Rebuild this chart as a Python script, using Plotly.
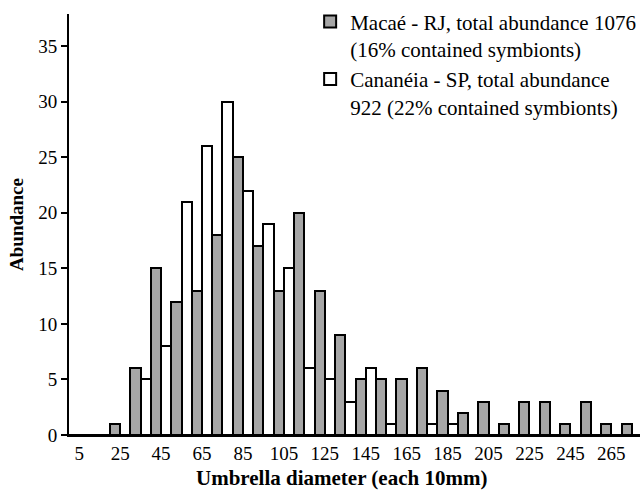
import plotly.graph_objects as go

diameters = [5, 15, 25, 35, 45, 55, 65, 75, 85, 95, 105, 115, 125, 135, 145, 155,
             165, 175, 185, 195, 205, 215, 225, 235, 245, 255, 265, 275]
macae = [0, 0, 1, 6, 15, 12, 13, 18, 25, 17, 13, 20, 13, 9, 5, 5,
         5, 6, 4, 2, 3, 1, 3, 3, 1, 3, 1, 1]
cananeia = [0, 0, 0, 5, 8, 21, 26, 30, 22, 19, 15, 6, 5, 3, 6, 1,
            0, 1, 1, 0, 0, 0, 0, 0, 0, 0, 0, 0]
tick_labels = [5, 25, 45, 65, 85, 105, 125, 145, 165, 185, 205, 225, 245, 265]
y_ticks = [0, 5, 10, 15, 20, 25, 30, 35]

name1 = "Macaé - RJ, total abundance 1076<br>(16% contained symbionts)"
name2 = "Cananéia - SP, total abundance<br>922 (22% contained symbionts)"
x_title = "<b>Umbrella diameter (each 10mm)</b>"
y_title = "<b>Abundance</b>"

font = "Liberation Serif"

fig = go.Figure()
fig.add_trace(go.Bar(x=diameters, y=macae, name=name1,
                     marker=dict(color="#a6a6a6", line=dict(color="black", width=2))))
fig.add_trace(go.Bar(x=diameters, y=cananeia, name=name2,
                     marker=dict(color="white", line=dict(color="black", width=2))))

fig.update_layout(
    width=643, height=496,
    margin=dict(l=69, r=3, t=14, b=61, autoexpand=False),
    paper_bgcolor="white", plot_bgcolor="white",
    barmode="group", bargap=0, bargroupgap=0,
    font=dict(family=font, size=19, color="black"),
    legend=dict(x=1.002, xanchor="right", y=1.03, yanchor="top",
                bgcolor="rgba(0,0,0,0)", font=dict(family=font, size=21),
                valign="top", itemwidth=30),
    showlegend=True,
)
fig.add_annotation(x=0.478, y=-0.102, xref="paper", yref="paper", showarrow=False,
                   xanchor="center", yanchor="middle", text=x_title,
                   font=dict(family=font, size=21))
fig.update_xaxes(
    range=[0, 279], tickmode="array", tickvals=tick_labels,
    ticktext=[str(t) for t in tick_labels], ticks="",
    showline=True, linecolor="black", linewidth=2, showgrid=False, zeroline=False,
    tickfont=dict(family=font, size=19),
)
fig.update_yaxes(
    range=[0, 37.9], tickmode="array", tickvals=y_ticks, ticks="outside", ticklen=6,
    tickwidth=2, tickcolor="black",
    showline=True, linecolor="black", linewidth=2, showgrid=False, zeroline=False,
    title=dict(text=y_title, font=dict(family=font, size=19), standoff=10),
    tickfont=dict(family=font, size=19),
)

fig.write_html("out.html")
